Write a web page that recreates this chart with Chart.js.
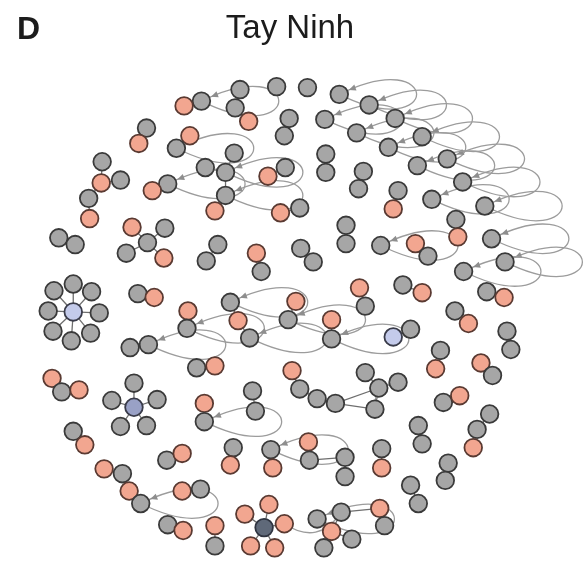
<!DOCTYPE html>
<html>
<head>
<meta charset="utf-8">
<script src="https://cdn.jsdelivr.net/npm/chart.js@4.4.1/dist/chart.umd.min.js"></script>
<style>
  html, body { margin: 0; padding: 0; background: #ffffff; }
  #wrap { width: 586px; height: 569px; position: relative; }
</style>
</head>
<body>
<div id="wrap"><canvas id="net" width="586" height="569"></canvas></div>
<script>
// Network layout for Tay Ninh: node coordinates in layout units (y grows downward)
const nodeX = [
  238,276,308,341,198,180,233,247,289,284, 326,372,399,359,427,392,141,133,186,172,
  232,202,223,267,285,327,327,366,361,453, 422,469,402,397,437,492,95,94,114,81,
  82,163,147,223,212,280,300,348,348,462, 464,384,420,433,499,513,470,50,67,126,
  160,142,120,159,215,203,255,260,301,314, 407,427,494,512,65,65,84,92,83,63,
  44,39,45,132,149,184,183,124,143,228, 236,248,296,288,333,333,362,368,397,415,
  461,475,515,519,446,441,488,500,193,212, 292,300,318,337,368,382,378,402,43,53,
  71,128,128,152,141,114,105,251,254,201, 201,449,466,65,77,423,427,497,484,480,
  231,228,270,272,309,310,347,347,385,385, 162,178,454,451,97,116,123,135,178,197,
  415,423,163,179,212,212,263,268,243,284, 249,274,318,343,333,354,325,383,388
];
const nodeY = [
  82,79,80,87,94,99,101,115,112,130, 113,98,112,127,131,142,122,138,130,143,
  148,163,168,172,163,149,168,167,185,154, 161,178,187,206,196,203,157,179,176,195,
  216,180,187,192,208,210,205,223,242,217, 235,244,242,255,237,261,271,236,243,225,
  226,241,252,257,243,260,252,271,247,261, 285,293,292,298,313,284,292,314,335,343,
  333,312,291,294,298,312,330,350,347,303, 322,340,302,321,321,341,288,307,339,331,
  312,325,333,352,353,372,366,379,371,369, 374,393,403,408,376,392,414,386,382,396,
  394,412,387,404,431,432,405,395,416,408, 427,407,400,437,451,431,450,419,435,454,
  454,472,456,475,448,467,464,484,455,475, 467,460,470,488,476,481,499,512,499,497,
  493,512,534,540,535,556,537,513,523,533, 556,558,528,521,541,549,558,517,535
];
// g = grey, s = salmon, b = light blue hub, m = blue hub, d = slate hub (ten per block)
const nodeKind = [
  "gggggsgsgg", "gggggggssg", "gggsgggggg", "gggsgggsgg", "sgsgssgggg",
  "sgsggggggs", "gggsggsggg", "gsgsbggggg", "ggggssgggg", "sgsgsgsgbg",
  "gsgggssggs", "sgggggggsg", "smgggggggs", "ggsgsggggs", "gsgssggggs",
  "gsggsgsgsg", "gggssgdsss", "ssggsggsg"
].join("").split("");

// Directed links between vertices (1-based ids)
const edgeFrom = [
  1,7,5,9,17,19,21,22,23,44, 24,26,28,33,37,38,38,40,42,46,
  48,50,53,58,62,62,62,62,65,67, 69,71,73,75,75,75,75,75,75,75,
  75,84,86,88,90,91,93,95,97,99, 101,103,105,107,109,111,112,113,115,116,
  116,119,120,122,122,122,122,122,128,130, 132,134,136,138,139,141,143,145,146,147,
  149,151,153,155,156,157,159,161,163,165, 167,167,167,167,167,175,175,175,175,178,
  174,116,114
];
const edgeTo = [
  7,8,6,10,18,20,23,23,44,45, 25,27,29,34,38,39,40,41,43,47,
  49,51,54,59,60,61,63,64,66,68, 70,72,74,76,77,78,79,80,81,82,
  83,85,87,89,91,92,94,96,98,100, 102,104,106,108,110,112,113,114,116,117,
  118,120,121,123,124,125,126,127,129,131, 133,135,137,139,140,142,144,146,147,148,
  150,152,154,156,157,158,160,162,164,166, 168,169,170,171,172,173,174,176,177,179,
  178,114,117
];
// Vertices carrying a self-loop
const loopNodes = [4,5,11,12,13,14,15,16,20,23,30,31,32,35,36,42,44,52,55,56,57,87,89,90,92,94,96,131,143,158,173];
// Curved links
const arcFrom = [118, 170];
const arcTo = [117, 174];

const FILL = { g: "#a6a6a6", s: "#f2a690", b: "#c4cbeb", m: "#99a1c6", d: "#5f6979" };
const STROKE = { g: "#3a3a3a", s: "#5a3a32", b: "#3a3c4a", m: "#3a3c4a", d: "#2f3440" };
const NODE_R = 8.8;
const LOOP_W = 107;   // horizontal reach of a self-loop control point
const LOOP_H = 53;    // vertical spread of the loop control points
const EDGE_COLOR = "#9c9c9c";

const points = nodeX.map((x, i) => ({ x: x, y: nodeY[i] }));

function bez(p0, p1, p2, p3, t) {
  const u = 1 - t;
  return {
    x: u*u*u*p0.x + 3*u*u*t*p1.x + 3*u*t*t*p2.x + t*t*t*p3.x,
    y: u*u*u*p0.y + 3*u*u*t*p1.y + 3*u*t*t*p2.y + t*t*t*p3.y
  };
}

function arrowHead(ctx, tip, from, len, half) {
  const dx = tip.x - from.x, dy = tip.y - from.y;
  const d = Math.hypot(dx, dy) || 1;
  const ux = dx / d, uy = dy / d;
  const bx = tip.x - ux * len, by = tip.y - uy * len;
  ctx.beginPath();
  ctx.moveTo(tip.x, tip.y);
  ctx.lineTo(bx - uy * half, by + ux * half);
  ctx.lineTo(bx + uy * half, by - ux * half);
  ctx.closePath();
  ctx.fill();
}

const linkPlugin = {
  id: "links",
  beforeDatasetsDraw(chart) {
    const ctx = chart.ctx;
    const sx = chart.scales.x, sy = chart.scales.y;
    const P = (x, y) => ({ x: sx.getPixelForValue(x), y: sy.getPixelForValue(y) });
    ctx.save();
    ctx.fillStyle = "#8e8e8e";
    ctx.lineWidth = 1.3;

    // straight links
    ctx.strokeStyle = "#6e6e6e";
    for (let k = 0; k < edgeFrom.length; k++) {
      const a = P(nodeX[edgeFrom[k]-1], nodeY[edgeFrom[k]-1]);
      const b = P(nodeX[edgeTo[k]-1], nodeY[edgeTo[k]-1]);
      ctx.beginPath(); ctx.moveTo(a.x, a.y); ctx.lineTo(b.x, b.y); ctx.stroke();
    }

    // self-loops
    ctx.strokeStyle = EDGE_COLOR;
    loopNodes.forEach(id => {
      const x = nodeX[id-1], y = nodeY[id-1];
      const p0 = P(x, y), c1 = P(x + LOOP_W, y + LOOP_H), c2 = P(x + LOOP_W, y - LOOP_H);
      ctx.beginPath();
      ctx.moveTo(p0.x, p0.y);
      ctx.bezierCurveTo(c1.x, c1.y, c2.x, c2.y, p0.x, p0.y);
      ctx.stroke();
      let t = 1, tip = p0;
      while (t > 0.5) {
        tip = bez(p0, c1, c2, p0, t);
        if (Math.hypot(tip.x - p0.x, tip.y - p0.y) > NODE_R + 1.5) break;
        t -= 0.004;
      }
      const back = bez(p0, c1, c2, p0, t - 0.06);
      arrowHead(ctx, tip, back, 7, 3.2);
    });

    // curved links
    for (let k = 0; k < arcFrom.length; k++) {
      const a = P(nodeX[arcFrom[k]-1], nodeY[arcFrom[k]-1]);
      const b = P(nodeX[arcTo[k]-1], nodeY[arcTo[k]-1]);
      const mx = (a.x + b.x) / 2, my = (a.y + b.y) / 2;
      const dx = b.x - a.x, dy = b.y - a.y;
      const cx = mx - dy * 0.5, cy = my + dx * 0.5;
      ctx.beginPath(); ctx.moveTo(a.x, a.y); ctx.quadraticCurveTo(cx, cy, b.x, b.y); ctx.stroke();
    }
    ctx.restore();
  }
};

const textPlugin = {
  id: "heading",
  afterDraw(chart) {
    const ctx = chart.ctx;
    ctx.save();
    ctx.fillStyle = "#1c1c1c";
    ctx.textBaseline = "alphabetic";
    ctx.font = "bold 32px 'Liberation Sans', Arial, sans-serif";
    ctx.textAlign = "left";
    ctx.fillText("D", 17, 39);
    ctx.font = "33px 'Liberation Sans', Arial, sans-serif";
    ctx.textAlign = "center";
    ctx.fillText("Tay Ninh", 290, 38);
    ctx.restore();
  }
};

new Chart(document.getElementById("net"), {
  type: "scatter",
  data: {
    datasets: [{
      data: points,
      pointRadius: NODE_R,
      pointHoverRadius: NODE_R,
      pointBorderWidth: 1.8,
      pointBackgroundColor: nodeKind.map(k => FILL[k]),
      pointBorderColor: nodeKind.map(k => STROKE[k])
    }]
  },
  options: {
    responsive: false,
    animation: false,
    events: [],
    layout: { padding: 0 },
    plugins: { legend: { display: false }, tooltip: { enabled: false }, title: { display: false } },
    scales: {
      x: { type: "linear", min: 0, max: 586, display: false },
      y: { type: "linear", min: 0, max: 569, reverse: true, display: false }
    }
  },
  plugins: [linkPlugin, textPlugin]
});
</script>
</body>
</html>
